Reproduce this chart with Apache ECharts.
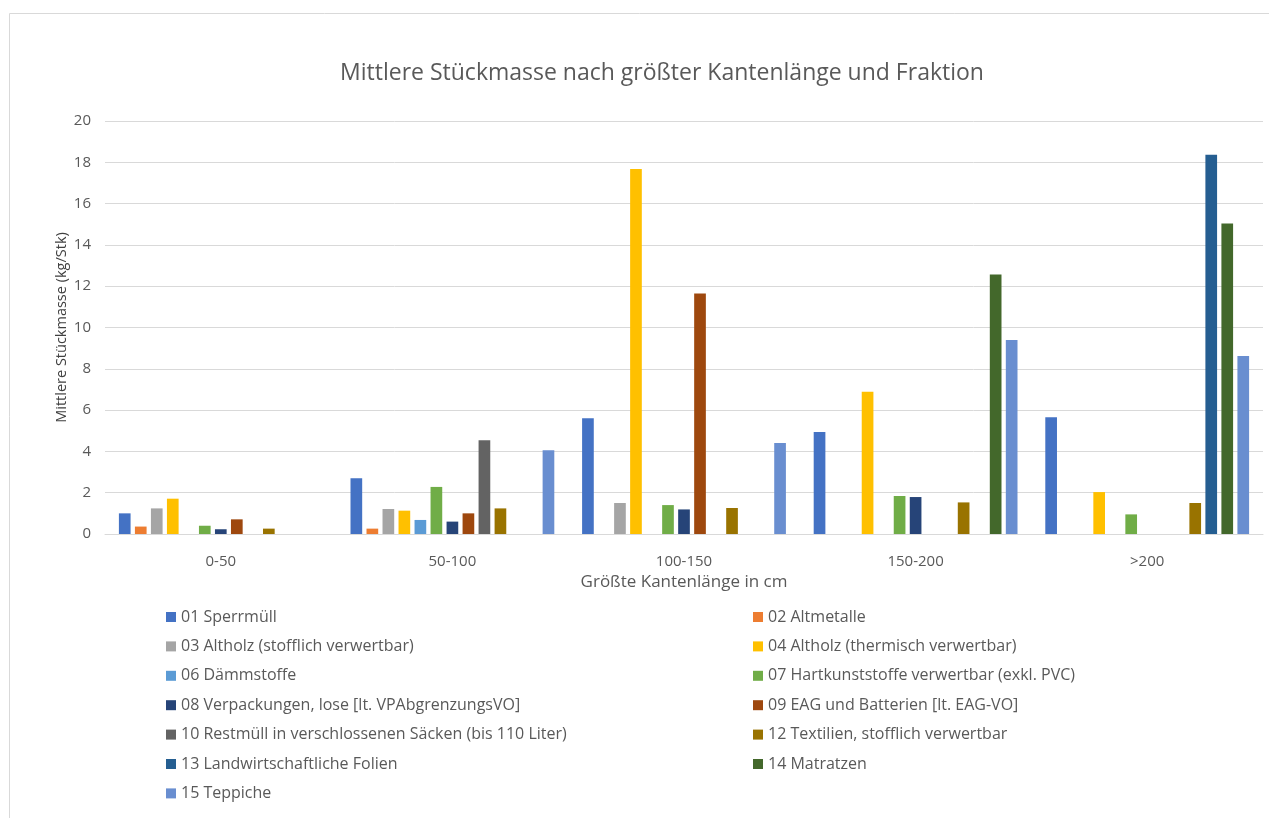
<!DOCTYPE html>
<html>
<head>
<meta charset="utf-8">
<script src="https://cdn.jsdelivr.net/npm/echarts@6/dist/echarts.min.js"></script>
<style>
html,body{margin:0;padding:0;background:#fff;}
#c{width:1269px;height:818px;}
</style>
</head>
<body>
<div id="c"></div>
<script>
const categories = ['0-50', '50-100', '100-150', '150-200', '>200'];
const yTicks = [0, 2, 4, 6, 8, 10, 12, 14, 16, 18, 20];

const seriesNames = [
  '01 Sperrmüll',
  '02 Altmetalle',
  '03 Altholz (stofflich verwertbar)',
  '04 Altholz (thermisch verwertbar)',
  '06 Dämmstoffe',
  '07 Hartkunststoffe verwertbar (exkl. PVC)',
  '08 Verpackungen, lose [lt. VPAbgrenzungsVO]',
  '09 EAG und Batterien [lt. EAG-VO]',
  '10 Restmüll in verschlossenen Säcken (bis 110 Liter)',
  '12 Textilien, stofflich verwertbar',
  '13 Landwirtschaftliche Folien',
  '14 Matratzen',
  '15 Teppiche'
];

const s01 = [1.00, 2.70, 5.60, 4.94, 5.65];
const s02 = [0.36, 0.26, null, null, null];
const s03 = [1.24, 1.21, 1.50, null, null];
const s04 = [1.71, 1.13, 17.68, 6.89, 2.03];
const s06 = [null, 0.68, null, null, null];
const s07 = [0.40, 2.28, 1.40, 1.84, 0.95];
const s08 = [0.23, 0.60, 1.19, 1.79, null];
const s09 = [0.71, 1.00, 11.65, null, null];
const s10 = [null, 4.54, null, null, null];
const s12 = [0.26, 1.24, 1.26, 1.53, 1.50];
const s13 = [null, null, null, null, 18.37];
const s14 = [null, null, null, 12.57, 15.04];
const s15 = [null, 4.05, 4.41, 9.39, 8.62];

const seriesData = [s01, s02, s03, s04, s06, s07, s08, s09, s10, s12, s13, s14, s15];
const colors = ['#4472C4', '#ED7D31', '#A5A5A5', '#FFC000', '#5B9BD5', '#70AD47', '#264478',
                '#9E480E', '#636363', '#997300', '#255E91', '#43682B', '#698ED0'];

const FONT = 'Open Sans';
const TXT = '#595959';

const chart = echarts.init(document.getElementById('c'), null, {renderer: 'canvas'});

const series = seriesNames.map((n, i) => ({
  name: n,
  type: 'bar',
  data: seriesData[i],
  barGap: '37%',
  barCategoryGap: '12%',
  itemStyle: {color: colors[i]},
  emphasis: {disabled: true}
}));

const leftNames = seriesNames.filter((_, i) => i % 2 === 0);
const rightNames = seriesNames.filter((_, i) => i % 2 === 1);

const legendCommon = {
  orient: 'vertical',
  icon: 'rect',
  itemWidth: 10,
  itemHeight: 10,
  itemGap: 11.4,
  selectedMode: false,
  padding: 0,
  textStyle: {fontFamily: FONT, fontSize: 16, color: TXT, lineHeight: 18}
};

chart.setOption({
  animation: false,
  color: colors,
  title: {
    text: 'Mittlere Stückmasse nach größter Kantenlänge und Fraktion',
    left: 662,
    top: 62,
    textAlign: 'center',
    padding: 0,
    textStyle: {fontFamily: FONT, fontSize: 23, fontWeight: 'normal', color: TXT}
  },
  graphic: [{
    type: 'rect',
    shape: {x: 9.5, y: 13.5, width: 1300, height: 900},
    style: {fill: null, stroke: '#d9d9d9', lineWidth: 1},
    silent: true
  }],
  legend: [
    Object.assign({}, legendCommon, {data: leftNames, left: 166, top: 608}),
    Object.assign({}, legendCommon, {data: rightNames, left: 753, top: 608})
  ],
  grid: {left: 105, right: 6, top: 121, bottom: 284},
  xAxis: {
    type: 'category',
    data: categories,
    name: 'Größte Kantenlänge in cm',
    nameLocation: 'middle',
    nameGap: 40,
    nameMoveOverlap: false,
    nameTextStyle: {fontFamily: FONT, fontSize: 17, color: TXT},
    axisLine: {show: true, lineStyle: {color: '#d9d9d9', width: 1}},
    axisTick: {show: false},
    axisLabel: {fontFamily: FONT, fontSize: 15, color: TXT, margin: 20}
  },
  yAxis: {
    type: 'value',
    min: yTicks[0],
    max: yTicks[yTicks.length - 1],
    interval: 2,
    name: 'Mittlere Stückmasse (kg/Stk)',
    nameLocation: 'middle',
    nameGap: 36,
    nameMoveOverlap: false,
    nameTextStyle: {fontFamily: FONT, fontSize: 14.5, color: '#404040'},
    axisLine: {show: false},
    axisTick: {show: false},
    splitLine: {lineStyle: {color: '#d9d9d9', width: 1}},
    axisLabel: {fontFamily: FONT, fontSize: 15, color: TXT, margin: 14}
  },
  series: series
});
</script>
</body>
</html>
